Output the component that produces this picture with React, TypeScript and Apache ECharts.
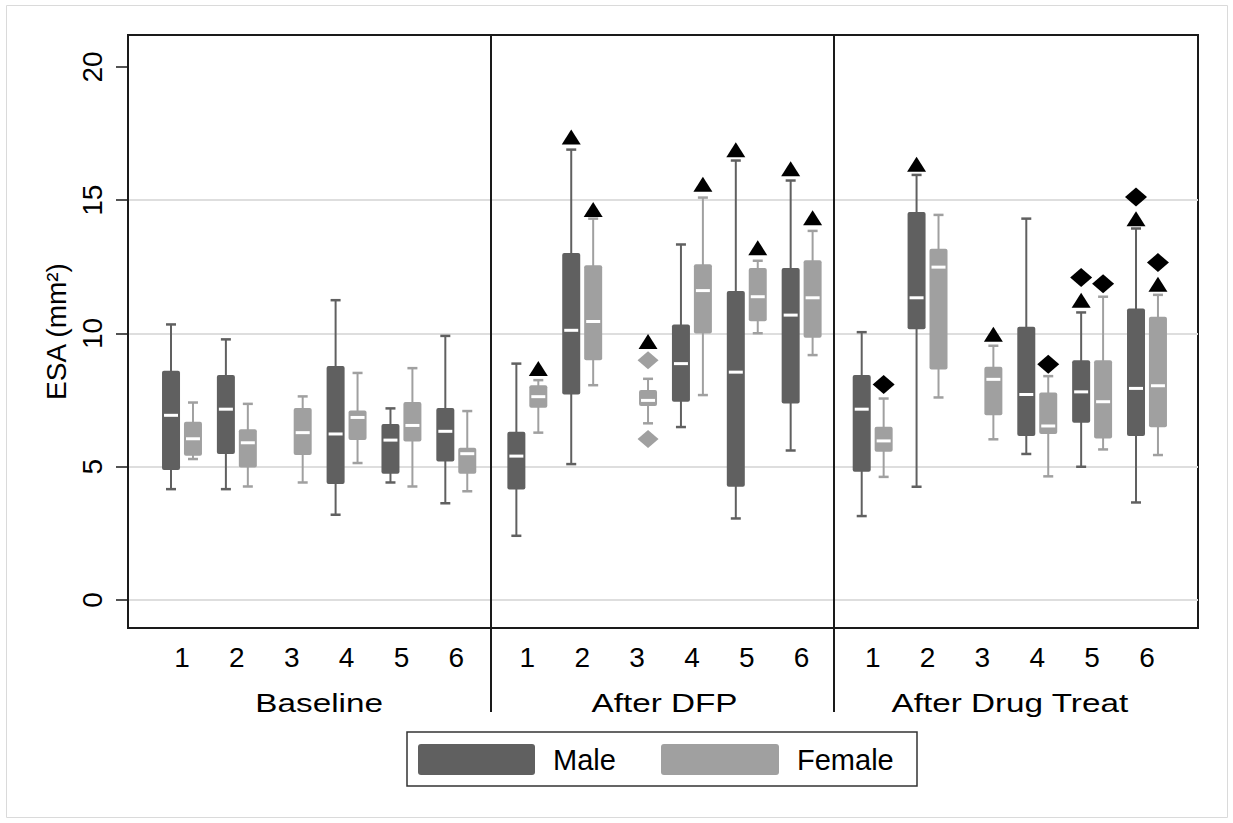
import React, { useEffect, useRef } from "react";
import * as echarts from "echarts";

// ---------- data ----------
const groupLabels = ["1", "2", "3", "4", "5", "6"];
const panelTitles = ["Baseline", "After DFP", "After Drug Treat"];
const yTicks = [0, 5, 10, 15, 20];

// each entry: [min, q1, median, q3, max] (null = no box)
const baselineMale = [
  [4.16, 4.88, 6.93, 8.6, 10.34],
  [4.16, 5.48, 7.16, 8.44, 9.78],
  null,
  [3.2, 4.35, 6.23, 8.78, 11.25],
  [4.41, 4.74, 6.0, 6.6, 7.19],
  [3.63, 5.2, 6.33, 7.2, 9.91],
];
const baselineFemale = [
  [5.29, 5.41, 6.05, 6.69, 7.41],
  [4.26, 4.97, 5.9, 6.41, 7.36],
  [4.41, 5.44, 6.28, 7.2, 7.64],
  [5.14, 6.0, 6.85, 7.11, 8.52],
  [4.26, 5.95, 6.55, 7.43, 8.7],
  [4.08, 4.74, 5.49, 5.71, 7.09],
];
const dfpMale = [
  [2.41, 4.15, 5.4, 6.31, 8.87],
  [5.1, 7.71, 10.12, 13.02, 16.9],
  null,
  [6.49, 7.44, 8.87, 10.34, 13.34],
  [3.06, 4.25, 8.55, 11.59, 16.49],
  [5.61, 7.37, 10.69, 12.46, 15.74],
];
const dfpFemale = [
  [6.28, 7.21, 7.63, 8.06, 8.25],
  [8.06, 9.0, 10.45, 12.56, 14.31],
  [6.63, 7.28, 7.49, 7.88, 8.3],
  [7.69, 10.0, 11.61, 12.6, 15.1],
  [10.01, 10.46, 11.38, 12.46, 12.73],
  [9.19, 9.84, 11.34, 12.75, 13.85],
];
const drugMale = [
  [3.15, 4.81, 7.16, 8.44, 10.05],
  [4.25, 10.16, 11.34, 14.56, 15.95],
  null,
  [5.48, 6.15, 7.71, 10.25, 14.31],
  [5.0, 6.65, 7.81, 9.0, 10.79],
  [3.66, 6.15, 7.94, 10.94, 13.94],
];
const drugFemale = [
  [4.62, 5.56, 5.97, 6.5, 7.56],
  [7.6, 8.65, 12.49, 13.18, 14.45],
  [6.03, 6.93, 8.28, 8.75, 9.54],
  [4.64, 6.23, 6.53, 7.79, 8.4],
  [5.65, 6.06, 7.44, 9.0, 11.38],
  [5.44, 6.48, 8.04, 10.63, 11.45],
];

// outliers: [groupIndex, value]
const dfpFemaleOutliers = [
  [2, 9.0],
  [2, 6.04],
];

// significance markers: [groupIndex, value]
const dfpMaleTriangles = [
  [1, 17.37],
  [4, 16.89],
  [5, 16.18],
];
const dfpFemaleTriangles = [
  [0, 8.69],
  [1, 14.65],
  [2, 9.7],
  [3, 15.6],
  [4, 13.22],
  [5, 14.34],
];
const drugMaleTriangles = [
  [1, 16.35],
  [4, 11.25],
  [5, 14.31],
];
const drugFemaleTriangles = [
  [2, 9.97],
  [5, 11.85],
];
const drugMaleDiamonds = [
  [4, 12.1],
  [5, 15.12],
];
const drugFemaleDiamonds = [
  [0, 8.09],
  [3, 8.85],
  [4, 11.87],
  [5, 12.66],
];

// ---------- layout ----------
const PANEL_STEP = 6.295;
const SEX_OFFSET = 0.2;
const X_MIN = 0.0157;
const X_MAX = 19.52;
const SEPARATORS = [6.63, 12.885];
const MALE_COLOR = "#606060";
const FEMALE_COLOR = "#a0a0a0";
const FONT = "'Liberation Sans', Arial, sans-serif";

const groupX = (panel: number, g: number) => g + 1 + panel * PANEL_STEP;

const boxData = (panels: any[][], offset: number) => {
  const out: number[][] = [];
  panels.forEach((arr, p) => {
    arr.forEach((b: number[] | null, g: number) => {
      if (b) out.push([groupX(p, g) + offset, ...b]);
    });
  });
  return out;
};

const markerData = (list: number[][], panel: number, offset: number) =>
  list.map(([g, v]) => [groupX(panel, g) + offset, v]);

const renderBox =
  (color: string) =>
  (_params: any, api: any) => {
    const x = api.value(0);
    const [cx, yMin] = api.coord([x, api.value(1)]);
    const yQ1 = api.coord([x, api.value(2)])[1];
    const yMed = api.coord([x, api.value(3)])[1];
    const yQ3 = api.coord([x, api.value(4)])[1];
    const yMax = api.coord([x, api.value(5)])[1];
    const bw = 18;
    const cw = 10;
    const mw = 14;
    return {
      type: "group",
      children: [
        {
          type: "line",
          shape: { x1: cx, y1: yMin, x2: cx, y2: yMax },
          style: { stroke: color, lineWidth: 2 },
        },
        {
          type: "line",
          shape: { x1: cx - cw / 2, y1: yMin, x2: cx + cw / 2, y2: yMin },
          style: { stroke: color, lineWidth: 2.5 },
        },
        {
          type: "line",
          shape: { x1: cx - cw / 2, y1: yMax, x2: cx + cw / 2, y2: yMax },
          style: { stroke: color, lineWidth: 2.5 },
        },
        {
          type: "rect",
          shape: { x: cx - bw / 2, y: yQ3, width: bw, height: yQ1 - yQ3, r: 2 },
          style: { fill: color },
        },
        {
          type: "rect",
          shape: { x: cx - mw / 2, y: yMed - 1.5, width: mw, height: 3 },
          style: { fill: "#ffffff" },
        },
      ],
    };
  };

export default function App() {
  const ref = useRef<HTMLDivElement>(null);

  useEffect(() => {
    document.body.style.margin = "0";
    const chart = echarts.init(ref.current!, undefined, { renderer: "svg" });

    const digitValues: number[] = [];
    const digitMap: Record<string, string> = {};
    panelTitles.forEach((_, p) =>
      groupLabels.forEach((lab, g) => {
        const v = groupX(p, g);
        digitValues.push(v);
        digitMap[v.toFixed(3)] = lab;
      })
    );

    const maleBoxes = boxData([baselineMale, dfpMale, drugMale], -SEX_OFFSET);
    const femaleBoxes = boxData([baselineFemale, dfpFemale, drugFemale], SEX_OFFSET);

    const triangles = [
      ...markerData(dfpMaleTriangles, 1, -SEX_OFFSET),
      ...markerData(dfpFemaleTriangles, 1, SEX_OFFSET),
      ...markerData(drugMaleTriangles, 2, -SEX_OFFSET),
      ...markerData(drugFemaleTriangles, 2, SEX_OFFSET),
    ];
    const diamonds = [
      ...markerData(drugMaleDiamonds, 2, -SEX_OFFSET),
      ...markerData(drugFemaleDiamonds, 2, SEX_OFFSET),
    ];
    const outliers = markerData(dfpFemaleOutliers, 1, SEX_OFFSET);

    const option: any = {
      animation: false,
      backgroundColor: "#ffffff",
      textStyle: { fontFamily: FONT },
      grid: {
        left: 128,
        top: 35,
        width: 1070,
        height: 593,
        show: true,
        borderColor: "#1a1a1a",
        borderWidth: 2,
        backgroundColor: "transparent",
      },
      xAxis: {
        type: "value",
        min: X_MIN,
        max: X_MAX,
        position: "bottom",
        axisLine: { show: false },
        axisTick: { show: false, customValues: digitValues },
        splitLine: { show: false },
        axisLabel: {
          customValues: digitValues,
          formatter: (v: number) => digitMap[v.toFixed(3)] ?? "",
          fontSize: 28,
          color: "#000",
          margin: 15,
          fontFamily: FONT,
        },
      },
      yAxis: {
        type: "value",
        min: -1.05,
        max: 21.2,
        name: "ESA (mm²)",
        nameLocation: "middle",
        nameRotate: 90,
        nameGap: 58,
        nameTextStyle: { fontSize: 28, color: "#000", fontFamily: FONT },
        axisLine: { show: true, lineStyle: { color: "#1a1a1a", width: 2 } },
        axisTick: {
          show: true,
          length: 12,
          customValues: yTicks,
          lineStyle: { color: "#1a1a1a", width: 1.5 },
        },
        axisLabel: {
          customValues: yTicks,
          rotate: 90,
          fontSize: 28,
          color: "#000",
          margin: 22,
          fontFamily: FONT,
        },
        splitLine: {
          show: true,
          lineStyle: {
            color: ["#dedede", "#dedede", "#dedede", "#dedede", "rgba(0,0,0,0)"],
            width: 2,
          },
        },
      },
      series: [
        {
          name: "Male",
          type: "custom",
          renderItem: renderBox(MALE_COLOR),
          data: maleBoxes,
          encode: { x: 0, y: [1, 2, 3, 4, 5] },
          itemStyle: { color: MALE_COLOR },
          z: 2,
        },
        {
          name: "Female",
          type: "custom",
          renderItem: renderBox(FEMALE_COLOR),
          data: femaleBoxes,
          encode: { x: 0, y: [1, 2, 3, 4, 5] },
          itemStyle: { color: FEMALE_COLOR },
          z: 2,
        },
        {
          name: "Outliers",
          type: "scatter",
          data: outliers,
          symbol: "diamond",
          symbolSize: [21, 18],
          itemStyle: { color: FEMALE_COLOR, opacity: 1 },
          z: 3,
        },
        {
          name: "Triangles",
          type: "scatter",
          data: triangles,
          symbol: "triangle",
          symbolSize: [19, 15],
          itemStyle: { color: "#000", opacity: 1 },
          z: 4,
        },
        {
          name: "Diamonds",
          type: "scatter",
          data: diamonds,
          symbol: "diamond",
          symbolSize: [22, 19],
          itemStyle: { color: "#000", opacity: 1 },
          z: 4,
        },
      ],
    };
    chart.setOption(option);

    const sepLines = SEPARATORS.map((v) => {
      const px = Math.round(chart.convertToPixel({ xAxisIndex: 0 }, v) as number);
      return {
        type: "line",
        shape: { x1: px, y1: 35, x2: px, y2: 712 },
        style: { stroke: "#1a1a1a", lineWidth: 2 },
        z: 10,
      };
    });

    const titleTexts = panelTitles.map((t, p) => {
      const px = chart.convertToPixel({ xAxisIndex: 0 }, groupX(p, 2.5)) as number;
      return {
        type: "text",
        x: px,
        y: 703,
        scaleX: 1.28,
        style: {
          text: t,
          fontSize: 26,
          fontFamily: FONT,
          fill: "#000",
          align: "center",
          verticalAlign: "middle",
        },
      };
    });

    chart.setOption({
      graphic: [
        {
          type: "rect",
          shape: { x: 6.5, y: 5.5, width: 1221, height: 812 },
          style: { fill: "none", stroke: "#dadada", lineWidth: 1 },
          silent: true,
        },
        ...sepLines,
        ...titleTexts,
        {
          type: "rect",
          shape: { x: 407, y: 732, width: 510, height: 54 },
          style: { fill: "#fff", stroke: "#333", lineWidth: 1.5 },
        },
        {
          type: "rect",
          shape: { x: 418, y: 744, width: 117, height: 31, r: 3 },
          style: { fill: MALE_COLOR },
        },
        {
          type: "text",
          x: 553,
          y: 759.5,
          style: {
            text: "Male",
            fontSize: 29,
            fontFamily: FONT,
            fill: "#000",
            verticalAlign: "middle",
            align: "left",
          },
        },
        {
          type: "rect",
          shape: { x: 661, y: 744, width: 118, height: 31, r: 3 },
          style: { fill: FEMALE_COLOR },
        },
        {
          type: "text",
          x: 797,
          y: 759.5,
          style: {
            text: "Female",
            fontSize: 29,
            fontFamily: FONT,
            fill: "#000",
            verticalAlign: "middle",
            align: "left",
          },
        },
      ],
    });

    return () => chart.dispose();
  }, []);

  return (
    <div
      ref={ref}
      style={{ position: "absolute", left: 0, top: 0, width: 1233, height: 823 }}
    />
  );
}
